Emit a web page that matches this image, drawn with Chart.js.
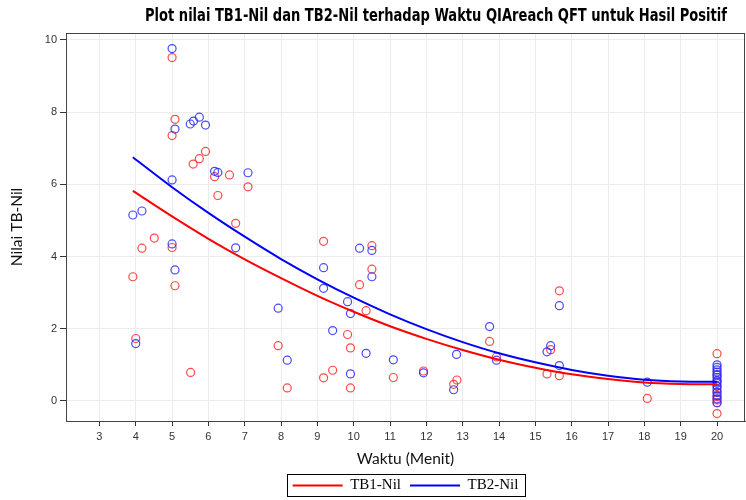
<!DOCTYPE html>
<html>
<head>
<meta charset="utf-8">
<script src="https://cdn.jsdelivr.net/npm/chart.js@4.4.0/dist/chart.umd.min.js"></script>
<style>
  html, body { margin: 0; padding: 0; background: #fff; }
  #wrap { width: 746px; height: 500px; }
</style>
</head>
<body>
<div id="wrap"><canvas id="plotChart" width="746" height="500"></canvas></div>
<script>
// values
const chartTitle = 'Plot nilai TB1-Nil dan TB2-Nil terhadap Waktu QIAreach QFT untuk Hasil Positif';
const xTicks = [3, 4, 5, 6, 7, 8, 9, 10, 11, 12, 13, 14, 15, 16, 17, 18, 19, 20];
const yTicks = [0, 2, 4, 6, 8, 10];

// TB1-Nil observations
const tb1X = [5.0, 5.08, 5.0, 5.92, 5.75, 5.58, 6.17, 6.58, 7.09, 6.26, 6.75, 4.51, 4.17, 5.0, 3.92, 5.08, 4.0, 5.51,
  9.17, 10.5, 10.5, 10.16, 10.34, 9.83, 7.92, 9.91, 9.42, 9.17, 11.09, 11.92, 8.17, 9.91,
  15.66, 13.74, 15.42, 13.93, 15.32, 15.66, 12.84, 12.75, 18.08,
  20, 20, 20, 20, 20, 20, 20, 20, 20];
const tb1Y = [9.51, 7.80, 7.35, 6.91, 6.71, 6.56, 6.21, 6.26, 5.93, 5.69, 4.92, 4.51, 4.23, 4.25, 3.44, 3.19, 1.73, 0.79,
  4.42, 4.30, 3.65, 3.22, 2.50, 1.84, 1.53, 1.47, 0.85, 0.64, 0.65, 0.83, 0.36, 0.36,
  3.05, 1.65, 1.42, 1.22, 0.75, 0.70, 0.58, 0.46, 0.07,
  1.31, 0.72, 0.55, 0.40, 0.25, 0.12, 0.03, -0.05, -0.35];

// TB2-Nil observations
const tb2X = [5.0, 5.5, 5.59, 5.75, 5.92, 5.08, 6.17, 6.26, 7.09, 5.0, 3.92, 4.17, 6.75, 5.0, 5.08, 4.0,
  10.16, 10.5, 9.17, 10.5, 9.17, 9.83, 9.91, 7.92, 9.42, 10.34, 8.17, 11.09, 9.91, 11.92,
  15.66, 13.74, 15.42, 15.32, 12.83, 13.93, 15.66, 12.75, 18.08,
  20, 20, 20, 20, 20, 20, 20, 20, 20, 20, 20, 20, 20, 20];
const tb2Y = [9.76, 7.67, 7.75, 7.86, 7.64, 7.53, 6.36, 6.33, 6.32, 6.12, 5.15, 5.26, 4.24, 4.35, 3.63, 1.59,
  4.23, 4.17, 3.69, 3.44, 3.12, 2.75, 2.42, 2.57, 1.95, 1.32, 1.13, 1.14, 0.75, 0.78,
  2.64, 2.06, 1.53, 1.36, 1.29, 1.13, 0.98, 0.31, 0.52,
  1.00, 0.93, 0.86, 0.80, 0.72, 0.65, 0.57, 0.50, 0.42, 0.33, 0.24, 0.15, 0.06, -0.05];

// fitted curves
const fitX = [3.92, 5, 6, 7, 8, 9, 10, 11, 12, 13, 14, 15, 16, 17, 18, 19, 20];
const fit1 = [5.82, 5.11, 4.49, 3.92, 3.40, 2.91, 2.47, 2.07, 1.72, 1.41, 1.14, 0.92, 0.74, 0.61, 0.51, 0.47, 0.46];
const fit2 = [6.75, 5.92, 5.21, 4.55, 3.93, 3.37, 2.86, 2.40, 1.99, 1.63, 1.32, 1.07, 0.86, 0.70, 0.59, 0.54, 0.53];

const toPoints = function (xs, ys) {
    let pts = [];
    for (var i = 0; i < xs.length; i++) {
        pts.push({ x: xs[i], y: ys[i] });
    }
    return pts;
};

// frame, title and legend border
const framePlugin = {
    id: 'frame',
    afterDraw(chart) {
        const ctx = chart.ctx;
        const a = chart.chartArea;
        ctx.save();
        ctx.strokeStyle = '#444';
        ctx.lineWidth = 1;
        ctx.strokeRect(a.left + 0.5, a.top + 0.5, a.right - a.left - 1, a.bottom - a.top);

        // condensed bold title, squeezed to the reference width
        ctx.fillStyle = '#000';
        ctx.font = 'bold 17px "DejaVu Sans Condensed", "DejaVu Sans"';
        ctx.textBaseline = 'middle';
        ctx.textAlign = 'center';
        const w = ctx.measureText(chartTitle).width;
        const sx = Math.min(1, 582 / w);
        ctx.translate(436, 17);
        ctx.scale(sx, 1);
        ctx.fillText(chartTitle, 0, 0);
        ctx.setTransform(1, 0, 0, 1, 0, 0);

        const boxes = chart.legend.legendHitBoxes;
        if (boxes && boxes.length) {
            let l = Infinity, r = -Infinity, t = Infinity, b = -Infinity;
            boxes.forEach(function (h) {
                l = Math.min(l, h.left); r = Math.max(r, h.left + h.width);
                t = Math.min(t, h.top); b = Math.max(b, h.top + h.height);
            });
            ctx.strokeStyle = '#000';
            ctx.strokeRect(Math.round(l - 6) + 0.5, Math.round(t - 4) + 0.5, Math.round(r - l + 12), Math.round(b - t + 7));
        }
        ctx.restore();
    }
};

new Chart(document.getElementById('plotChart'), {
    type: 'scatter',
    data: {
        datasets: [
            {
                type: 'line', label: 'TB1-Nil', data: toPoints(fitX, fit1),
                borderColor: '#ff0000', backgroundColor: '#ff0000', borderWidth: 2,
                pointRadius: 0, pointStyle: 'line', cubicInterpolationMode: 'monotone', order: 0
            },
            {
                type: 'line', label: 'TB2-Nil', data: toPoints(fitX, fit2),
                borderColor: '#0000ff', backgroundColor: '#0000ff', borderWidth: 2,
                pointRadius: 0, pointStyle: 'line', cubicInterpolationMode: 'monotone', order: 0
            },
            {
                label: 'TB1-Nil obs', data: toPoints(tb1X, tb1Y),
                borderColor: 'rgba(255,40,40,0.85)', backgroundColor: 'rgba(0,0,0,0)',
                pointRadius: 4, borderWidth: 1.2, order: 2
            },
            {
                label: 'TB2-Nil obs', data: toPoints(tb2X, tb2Y),
                borderColor: 'rgba(40,40,255,0.85)', backgroundColor: 'rgba(0,0,0,0)',
                pointRadius: 4, borderWidth: 1.2, order: 1
            }
        ]
    },
    options: {
        responsive: false,
        animation: false,
        layout: { autoPadding: false, padding: { top: 33, right: 1, left: 0, bottom: -3 } },
        plugins: {
            title: { display: false },
            tooltip: { enabled: false },
            legend: {
                position: 'bottom',
                fullSize: false,
                labels: {
                    filter: function (item) { return item.datasetIndex < 2; },
                    usePointStyle: true,
                    pointStyleWidth: 50,
                    color: '#000',
                    padding: 9,
                    font: { family: '"Liberation Serif"', size: 15 }
                }
            }
        },
        scales: {
            x: {
                type: 'linear', min: 2.08, max: 20.77,
                afterBuildTicks: function (scale) { scale.ticks = xTicks.map(function (v) { return { value: v }; }); },
                afterFit: function (scale) { scale.height = 48; scale.paddingLeft = 0; scale.paddingRight = 0; },
                grid: { color: '#ececec', tickColor: '#333', tickLength: 5, drawTicks: true },
                border: { color: '#444' },
                ticks: { color: '#333', padding: 4, maxRotation: 0, font: { family: '"Liberation Sans"', size: 11 } },
                title: { display: true, text: 'Waktu (Menit)', color: '#111', padding: { top: 2, bottom: 1 }, font: { family: 'Lato', size: 15.5 } }
            },
            y: {
                type: 'linear', min: -0.555, max: 10.19,
                afterBuildTicks: function (scale) { scale.ticks = yTicks.map(function (v) { return { value: v }; }); },
                afterFit: function (scale) { scale.width = 66; },
                grid: { color: '#ececec', tickColor: '#333', tickLength: 6, drawTicks: true },
                border: { color: '#444' },
                ticks: { color: '#333', padding: 3, font: { family: '"Liberation Sans"', size: 11 } },
                title: { display: true, text: 'Nilai TB-Nil', color: '#111', padding: { top: 8, bottom: 4 }, font: { family: 'Lato', size: 15.5 } }
            }
        }
    },
    plugins: [framePlugin]
});
</script>
</body>
</html>
